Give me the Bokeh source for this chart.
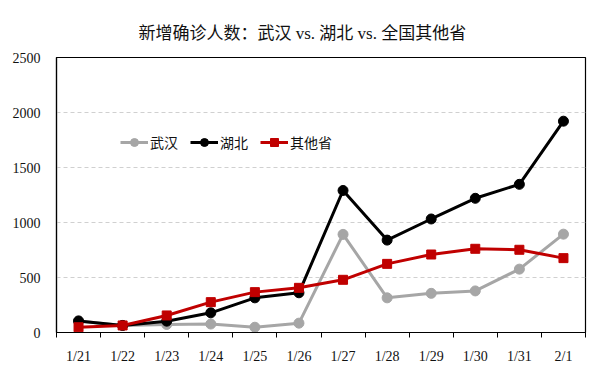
from bokeh.plotting import figure
from bokeh.models import FixedTicker, Range1d, Legend, LegendItem
from bokeh.embed import file_html
from bokeh.resources import INLINE

dates = ["1/21", "1/22", "1/23", "1/24", "1/25", "1/26", "1/27", "1/28", "1/29", "1/30", "1/31", "2/1"]
wuhan = [105, 64, 73, 77, 48, 85, 892, 315, 356, 378, 576, 894]
hubei = [105, 64, 103, 179, 315, 361, 1291, 840, 1032, 1220, 1347, 1921]
others = [48, 64, 155, 276, 367, 406, 479, 624, 709, 761, 752, 676]
y_ticks = [0, 500, 1000, 1500, 2000, 2500]

xs = [i + 0.5 for i in range(len(dates))]

CJK = "Noto Sans CJK SC"

p = figure(width=592, height=368, output_backend="svg", toolbar_location=None,
           x_range=Range1d(0, len(dates)), y_range=Range1d(0, 2500),
           min_border_left=56, min_border_right=7, min_border_top=57, min_border_bottom=36)

p.title.text = "新增确诊人数：武汉  vs. 湖北 vs. 全国其他省"
p.title.align = "left"
p.title.offset = 82
p.title.text_font = "Liberation Serif, Noto Sans CJK SC"
p.title.text_font_size = "17px"
p.title.text_font_style = "normal"
p.title.text_color = "#111111"
p.title.standoff = 30

p.outline_line_color = "black"
p.outline_line_width = 1.2
p.background_fill_color = "white"
p.border_fill_color = "white"

p.xgrid.grid_line_color = None
p.ygrid.grid_line_color = "#d0d0d0"
p.ygrid.grid_line_dash = "4 3"
p.ygrid.grid_line_width = 1

p.xaxis.ticker = FixedTicker(ticks=xs, minor_ticks=list(range(len(dates) + 1)))
p.xaxis.major_label_overrides = {x: d for x, d in zip(xs, dates)}
p.xaxis.major_tick_out = 0
p.xaxis.major_tick_in = 0
p.xaxis.minor_tick_out = 5
p.xaxis.minor_tick_in = 0
p.xaxis.minor_tick_line_color = "black"
p.xaxis.axis_line_color = "black"
p.xaxis.axis_line_width = 1.2
p.xaxis.major_label_standoff = 11
p.xaxis.major_label_text_font = "Liberation Serif"
p.xaxis.major_label_text_font_size = "14px"
p.xaxis.major_label_text_color = "#111111"

p.yaxis.ticker = FixedTicker(ticks=y_ticks)
p.yaxis.major_tick_out = 0
p.yaxis.major_tick_in = 0
p.yaxis.minor_tick_line_color = None
p.yaxis.axis_line_color = "black"
p.yaxis.axis_line_width = 1.2
p.yaxis.major_label_standoff = 16
p.yaxis.major_label_text_font = "Liberation Serif"
p.yaxis.major_label_text_font_size = "14px"
p.yaxis.major_label_text_color = "#111111"

gray, black, red = "#a6a6a6", "#000000", "#c00000"

l1 = p.line(xs, wuhan, line_color=gray, line_width=3)
m1 = p.scatter(xs, wuhan, marker="circle", size=10, fill_color=gray, line_color=gray)
l2 = p.line(xs, hubei, line_color=black, line_width=3)
m2 = p.scatter(xs, hubei, marker="circle", size=10, fill_color=black, line_color=black)
l3 = p.line(xs, others, line_color=red, line_width=3)
m3 = p.scatter(xs, others, marker="square", size=9, fill_color=red, line_color=red)

legend = Legend(items=[
    LegendItem(label="武汉", renderers=[l1, m1]),
    LegendItem(label="湖北", renderers=[l2, m2]),
    LegendItem(label="其他省", renderers=[l3, m3]),
], orientation="horizontal", location=(64, 180))
legend.border_line_color = None
legend.background_fill_alpha = 0
legend.padding = 0
legend.margin = 0
legend.spacing = 12
legend.glyph_width = 28
legend.label_standoff = 2
legend.label_text_font = CJK
legend.label_text_font_size = "14px"
legend.label_text_color = "#111111"
p.add_layout(legend, "center")

open("out.html", "w").write(file_html(p, INLINE))
